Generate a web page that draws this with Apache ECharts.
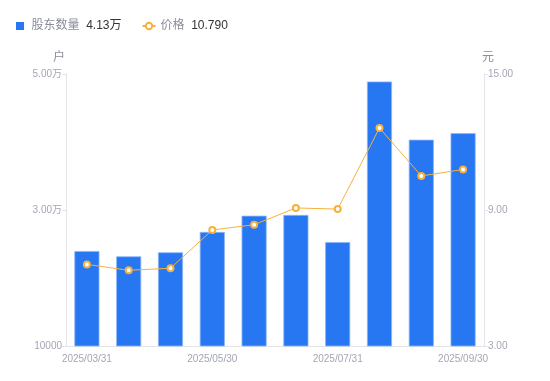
<!DOCTYPE html>
<html><head><meta charset="utf-8">
<script src="https://cdn.jsdelivr.net/npm/echarts@6/dist/echarts.min.js"></script>
<style>html,body{margin:0;padding:0;background:#fff}#c{width:550px;height:381px}</style>
</head><body><div id="c"></div>
<script>
const categories = ['2025/03/31','2025/04/10','2025/04/30','2025/05/30','2025/06/10','2025/06/30','2025/07/31','2025/08/20','2025/08/31','2025/09/30'];
const holders = [23970, 23190, 23780, 26770, 29160, 29270, 25290, 48900, 40340, 41300];
const prices = [6.60, 6.34, 6.43, 8.12, 8.35, 9.09, 9.04, 12.62, 10.50, 10.79];
const leftTicks = {10000: '10000', 30000: '3.00万', 50000: '5.00万'};

const chart = echarts.init(document.getElementById('c'));
const lastH = (holders[holders.length-1]/10000).toFixed(2) + '万';
const lastP = prices[prices.length-1].toFixed(3);
const axisLabelColor = '#a3a6b4';
chart.setOption({
  animation: false,
  textStyle: {fontFamily: '"Liberation Sans", "Noto Sans CJK SC", sans-serif'},
  legend: {
    left: 11, top: 15, itemGap: 20, itemWidth: 13, itemHeight: 8,
    data: [{name: '股东数量', icon: 'path://M0,0L1,0L1,1L0,1Z', itemStyle: {borderWidth: 0}}, {name: '价格'}],
    formatter: function (n) {
      return '{n|' + n + '}  {v|' + (n === '股东数量' ? lastH : lastP) + '}';
    },
    textStyle: {
      rich: {
        n: {color: '#8a8d99', fontSize: 12},
        v: {color: '#333333', fontSize: 12}
      }
    }
  },
  grid: {left: 66, right: 66, top: 74, bottom: 35},
  xAxis: {
    type: 'category', data: categories,
    axisLine: {lineStyle: {color: '#e3e3e8'}},
    axisTick: {show: false},
    axisLabel: {color: axisLabelColor, fontSize: 10, interval: 2, margin: 8}
  },
  yAxis: [{
    type: 'value', name: '户', min: 10000, max: 50000, interval: 20000,
    nameTextStyle: {color: '#8a8d99', fontSize: 12, padding: [0, 14, 0, 0]},
    nameGap: 10,
    axisLine: {show: true, lineStyle: {color: '#e3e3e8'}},
    axisTick: {show: true, length: 4, lineStyle: {color: '#e3e3e8'}},
    splitLine: {show: false},
    axisLabel: {color: axisLabelColor, fontSize: 10, margin: 4,
      formatter: v => leftTicks[v] || ''}
  }, {
    type: 'value', name: '元', min: 3, max: 15, interval: 6,
    nameTextStyle: {color: '#8a8d99', fontSize: 12, padding: [0, 0, 0, 8]},
    nameGap: 10,
    axisLine: {show: true, lineStyle: {color: '#e3e3e8'}},
    axisTick: {show: true, length: 4, lineStyle: {color: '#e3e3e8'}},
    splitLine: {show: false},
    axisLabel: {color: axisLabelColor, fontSize: 10, margin: 4,
      formatter: v => v.toFixed(2)}
  }],
  series: [{
    name: '股东数量', type: 'bar', data: holders, barWidth: '60%',
    itemStyle: {color: '#2777f3', borderColor: '#8db6f7', borderWidth: 0.8}
  }, {
    name: '价格', type: 'line', yAxisIndex: 1, data: prices,
    symbol: 'emptyCircle', symbolSize: 6,
    lineStyle: {color: '#f7b13b', width: 1},
    itemStyle: {color: '#f7b13b', borderWidth: 2}
  }]
});
</script></body></html>
